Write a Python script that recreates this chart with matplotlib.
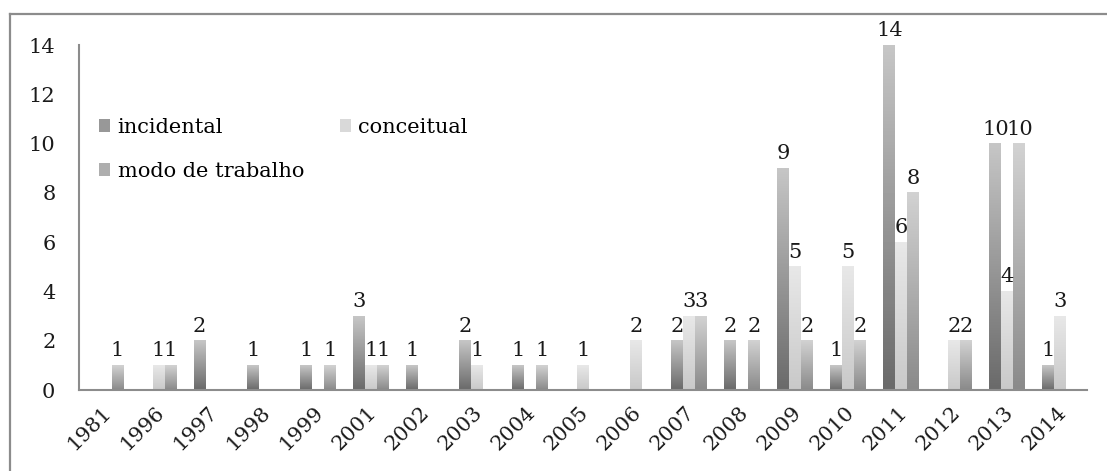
import numpy as np
import matplotlib
matplotlib.use("Agg")
import matplotlib.pyplot as plt
import matplotlib.transforms as mtransforms
from matplotlib.colors import LinearSegmentedColormap
from matplotlib.patches import Patch
from matplotlib.lines import Line2D

# data
years = ["1981", "1996", "1997", "1998", "1999", "2001", "2002", "2003", "2004", "2005",
         "2006", "2007", "2008", "2009", "2010", "2011", "2012", "2013", "2014"]
incidental = [0, 0, 2, 1, 1, 3, 1, 2, 1, 0, 0, 2, 2, 9, 1, 14, 0, 10, 1]
conceitual = [0, 1, 0, 0, 0, 1, 0, 1, 0, 1, 2, 3, 0, 5, 5, 6, 2, 4, 3]
modo_trabalho = [1, 1, 0, 0, 1, 1, 0, 0, 1, 0, 0, 3, 2, 2, 2, 8, 2, 10, 0]

series_names = ["incidental", "conceitual", "modo de trabalho"]
# bottom -> top colours of each gradient
series_colors = [("#6a6a6a", "#c6c6c6"), ("#c9c9c9", "#e8e8e8"), ("#8a8a8a", "#d2d2d2")]

plt.rcParams["font.family"] = ["DejaVu Serif"]

fig = plt.figure(figsize=(11.07, 4.71), dpi=100)
ax = fig.add_axes([79 / 1107, 81 / 471, 1008 / 1107, 345 / 471])

# outer frame (cropped on right and bottom)
fig.add_artist(Line2D([10 / 1107, 10 / 1107], [0, 1 - 14 / 471], transform=fig.transFigure,
                      color="#8c8c8c", lw=1.6))
fig.add_artist(Line2D([10 / 1107, 1], [1 - 14 / 471, 1 - 14 / 471], transform=fig.transFigure,
                      color="#8c8c8c", lw=1.6))

x = np.arange(len(years))
w = 0.226
grad = np.linspace(1, 0, 100).reshape(-1, 1)

handles = []
for i, (vals, name, (c0, c1)) in enumerate(zip([incidental, conceitual, modo_trabalho],
                                               series_names, series_colors)):
    cmap = LinearSegmentedColormap.from_list(name, [c0, c1])
    offset = (i - 1) * w
    for xi, v in zip(x, vals):
        if v == 0:
            continue
        ax.imshow(grad, extent=(xi + offset - w / 2, xi + offset + w / 2, 0, v),
                  aspect="auto", cmap=cmap, vmin=0, vmax=1, zorder=2)
        ax.text(xi + offset, v + 0.2, str(v), ha="center", va="bottom",
                fontsize=15, color="#1a1a1a")
    handles.append(Patch(facecolor=cmap(0.5), edgecolor="none", label=name))

ax.set_xlim(-0.5, len(years) - 0.5)
ax.set_ylim(0, 14)
ax.set_yticks(range(0, 15, 2))
ax.set_xticks(x)
ax.set_xticklabels(years, rotation=45, ha="right", rotation_mode="anchor")
ax.tick_params(axis="both", length=0, labelsize=15, colors="#1a1a1a")
ax.tick_params(axis="y", pad=17)
ax.tick_params(axis="x", pad=9)
shift = mtransforms.ScaledTranslation(-4 / 100, 0, fig.dpi_scale_trans)
for lbl in ax.get_xticklabels():
    lbl.set_transform(lbl.get_transform() + shift)

for s in ["top", "right"]:
    ax.spines[s].set_visible(False)
for s in ["left", "bottom"]:
    ax.spines[s].set_color("#8c8c8c")
    ax.spines[s].set_linewidth(1.5)

# legend filled row-wise: incidental, conceitual / modo de trabalho
leg = fig.legend(handles=[handles[0], handles[2], handles[1]], ncol=2,
                 loc="upper left", bbox_to_anchor=(99 / 1107, 1 - 118 / 471),
                 frameon=False, fontsize=15, handlelength=0.55, handleheight=0.55,
                 handletextpad=0.35, labelspacing=1.2, columnspacing=1.7, borderpad=0,
                 borderaxespad=0)

fig.savefig("out.png", dpi=100)
